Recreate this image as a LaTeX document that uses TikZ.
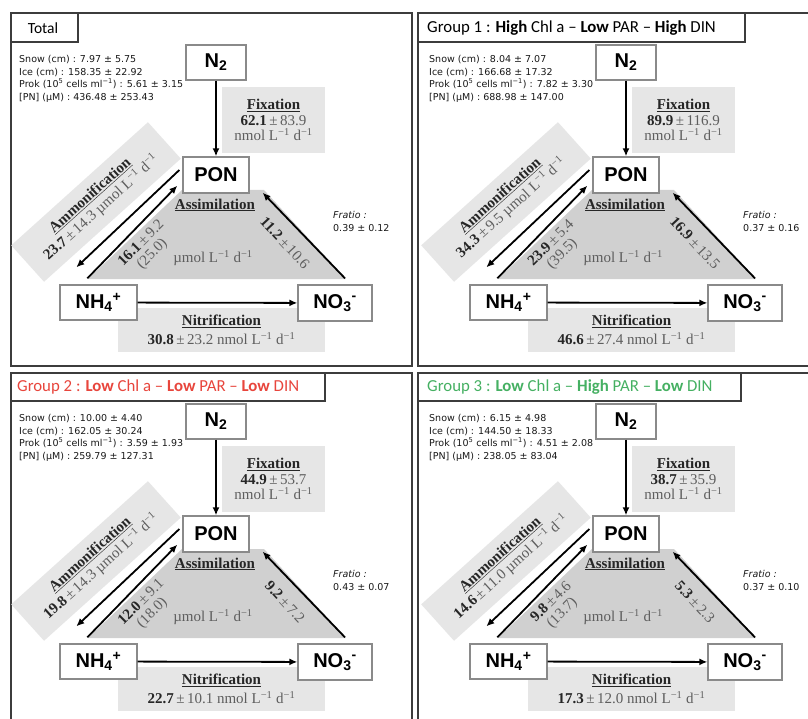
\documentclass[tikz,border=0pt]{standalone}
\usepackage{fontspec}
\usetikzlibrary{arrows.meta}
\setmainfont{Liberation Serif}
\newfontfamily\labelfont{Liberation Sans}
\newfontfamily\notefont{DejaVu Sans}
\newfontfamily\titlefont{Carlito}

\definecolor{framegray}{HTML}{3C3C3C}
\definecolor{boxedge}{HTML}{8A8A8A}
\definecolor{lightfill}{HTML}{E6E6E6}
\definecolor{midfill}{HTML}{D0D0D0}
\definecolor{valdark}{HTML}{262626}
\definecolor{valgray}{HTML}{5E5E5E}
\definecolor{grpred}{HTML}{E8453C}
\definecolor{grpgreen}{HTML}{45B062}

\newcommand{\serifsize}{\fontsize{15}{15.5}\selectfont}
\newcommand{\procname}[1]{{\color{valdark}\textbf{\underline{#1}}}}
\newcommand{\pmv}[2]{{\color{valdark}\textbf{#1}}{\color{valgray}\,±\,#2}}
\newcommand{\perunit}[1]{{\color{valgray}#1 L\textsuperscript{−1} d\textsuperscript{−1}}}

\tikzset{
  frame/.style={draw=framegray, line width=2pt},
  pool/.style={draw=boxedge, line width=1.3pt, fill=white, inner sep=0pt,
    font=\labelfont\bfseries\fontsize{20}{22}\selectfont},
  shadebox/.style={fill=lightfill, inner sep=0pt, align=center, font=\serifsize},
  rate/.style={inner sep=0pt, align=center, font=\serifsize},
  flow/.style={line width=1.8pt, -{Latex[length=8pt,width=7pt]}},
  note/.style={inner sep=0pt, align=left, text=black!90,
    font=\notefont\fontsize{9.5}{12.6}\selectfont},
  grouptitle/.style={inner sep=0pt, font=\titlefont\fontsize{16.8}{18}\selectfont}
}

% One nitrogen cycle: #1 name prefix, #2 site data, #3 fixation,
% #4 ammonification, #5 NH4 assimilation, #6 NO3 assimilation,
% #7 nitrification, #8 f-ratio
\newcommand{\nitrocycle}[8]{%
  \fill[midfill] (88,279) -- (182,190) -- (264,190) -- (346,279) -- cycle;
  \node[shadebox, minimum width=103pt, minimum height=66pt] (#1fix) at (273.5,120)
    {\procname{Fixation}\\#3\\\perunit{nmol}};
  \node[shadebox, minimum width=207pt, minimum height=44pt] (#1nit) at (221.5,330)
    {\procname{Nitrification}\\[3pt]#7 \perunit{nmol}};
  \node[shadebox, rotate=42, minimum width=184pt, minimum height=49pt] (#1amm) at (96,202)
    {\procname{Ammonification}\\[1pt]#4 \perunit{µmol}};
  \node[rate] (#1asl) at (215,205) {\procname{Assimilation}};
  \node[rate] (#1asu) at (213,258) {\perunit{µmol}};
  \node[rate, rotate=45] (#1asa) at (147,249) {#5};
  \node[rate, rotate=-47] (#1asb) at (285,243) {#6};
  \node[note, anchor=north west] (#1info) at (19,55) {#2};
  \node[note, anchor=north west] (#1fr) at (333,211) {\textit{Fratio :}\\#8};
  \node[pool, minimum width=60pt, minimum height=35pt] (#1n2) at (216,62.5) {N\textsubscript{2}};
  \node[pool, minimum width=66pt, minimum height=36pt] (#1pon) at (216,175) {PON};
  \node[pool, minimum width=77pt, minimum height=35pt] (#1nh4) at (98.5,302.5)
    {NH\textsubscript{4}\textsuperscript{+}};
  \node[pool, minimum width=74pt, minimum height=36pt] (#1no3) at (335,303)
    {NO\textsubscript{3}\textsuperscript{-}};
  \draw[flow] (#1n2) -- (#1pon);
  \draw[flow] ([xshift=-3pt,yshift=5pt]#1pon.west) -- ([xshift=17pt,yshift=17pt]#1nh4.north west);
  \draw[flow] ([xshift=28pt,yshift=6pt]#1nh4.north west) -- ([xshift=-5pt,yshift=8pt]#1pon.south west);
  \draw[flow] ([xshift=10pt,yshift=6pt]#1no3.north) -- ([xshift=13pt,yshift=1pt]#1pon.south east);
  \draw[flow] (#1nh4) -- (#1no3);
}

\begin{document}
\begin{tikzpicture}[x=1pt, y=-1pt]
  \useasboundingbox[fill=white] (0,0) rectangle (808,719);

  % panel frames
  \draw[frame] (11,13) rectangle (412,366);
  \draw[frame] (810,13) -- (418,13) -- (418,366) -- (810,366);
  \draw[frame] (11,721) -- (11,373) -- (412,373) -- (412,721);
  \draw[frame] (810,373) -- (418,373) -- (418,721);

  % title tabs
  \draw[frame] (11,42) -- (78,42) -- (78,13);
  \draw[frame] (418,42) -- (745,42) -- (745,13);
  \draw[frame] (11,401) -- (325,401) -- (325,373);
  \draw[frame] (418,401) -- (741,401) -- (741,373);
  \node[grouptitle, font=\titlefont\fontsize{15.5}{18}\selectfont] (ttotal) at (43,28) {Total};
  \node[grouptitle, anchor=west] (tgone) at (427,28)
    {Group 1 : \textbf{High} Chl a – \textbf{Low} PAR – \textbf{High} DIN};
  \node[grouptitle, anchor=west, text=grpred] (tgtwo) at (17,387)
    {Group 2 : \textbf{Low} Chl a – \textbf{Low} PAR – \textbf{Low} DIN};
  \node[grouptitle, anchor=west, text=grpgreen] (tgthree) at (427,387)
    {Group 3 : \textbf{Low} Chl a – \textbf{High} PAR – \textbf{Low} DIN};

  \begin{scope}
    \nitrocycle{a}
      {Snow (cm) : 7.97 ± 5.75\\Ice (cm) : 158.35 ± 22.92\\Prok (10\textsuperscript{5} cells ml\textsuperscript{−1}) : 5.61 ± 3.15\\{[PN]} (µM) : 436.48 ± 253.43}
      {\pmv{62.1}{83.9}}
      {\pmv{23.7}{14.3}}
      {\pmv{16.1}{9.2}\\{\color{valgray}(25.0)}}
      {\pmv{11.2}{10.6}}
      {\pmv{30.8}{23.2}}
      {0.39 ± 0.12}
  \end{scope}

  \begin{scope}[shift={(410,0)}]
    \nitrocycle{b}
      {Snow (cm) : 8.04 ± 7.07\\Ice (cm) : 166.68 ± 17.32\\Prok (10\textsuperscript{5} cells ml\textsuperscript{−1}) : 7.82 ± 3.30\\{[PN]} (µM) : 688.98 ± 147.00}
      {\pmv{89.9}{116.9}}
      {\pmv{34.3}{9.5}}
      {\pmv{23.9}{5.4}\\{\color{valgray}(39.5)}}
      {\pmv{16.9}{13.5}}
      {\pmv{46.6}{27.4}}
      {0.37 ± 0.16}
  \end{scope}

  \begin{scope}[shift={(0,359)}]
    \nitrocycle{c}
      {Snow (cm) : 10.00 ± 4.40\\Ice (cm) : 162.05 ± 30.24\\Prok (10\textsuperscript{5} cells ml\textsuperscript{−1}) : 3.59 ± 1.93\\{[PN]} (µM) : 259.79 ± 127.31}
      {\pmv{44.9}{53.7}}
      {\pmv{19.8}{14.3}}
      {\pmv{12.0}{9.1}\\{\color{valgray}(18.0)}}
      {\pmv{9.2}{7.2}}
      {\pmv{22.7}{10.1}}
      {0.43 ± 0.07}
  \end{scope}

  \begin{scope}[shift={(410,359)}]
    \nitrocycle{d}
      {Snow (cm) : 6.15 ± 4.98\\Ice (cm) : 144.50 ± 18.33\\Prok (10\textsuperscript{5} cells ml\textsuperscript{−1}) : 4.51 ± 2.08\\{[PN]} (µM) : 238.05 ± 83.04}
      {\pmv{38.7}{35.9}}
      {\pmv{14.6}{11.0}}
      {\pmv{9.8}{4.6}\\{\color{valgray}(13.7)}}
      {\pmv{5.3}{2.3}}
      {\pmv{17.3}{12.0}}
      {0.37 ± 0.10}
  \end{scope}
\end{tikzpicture}
\end{document}
